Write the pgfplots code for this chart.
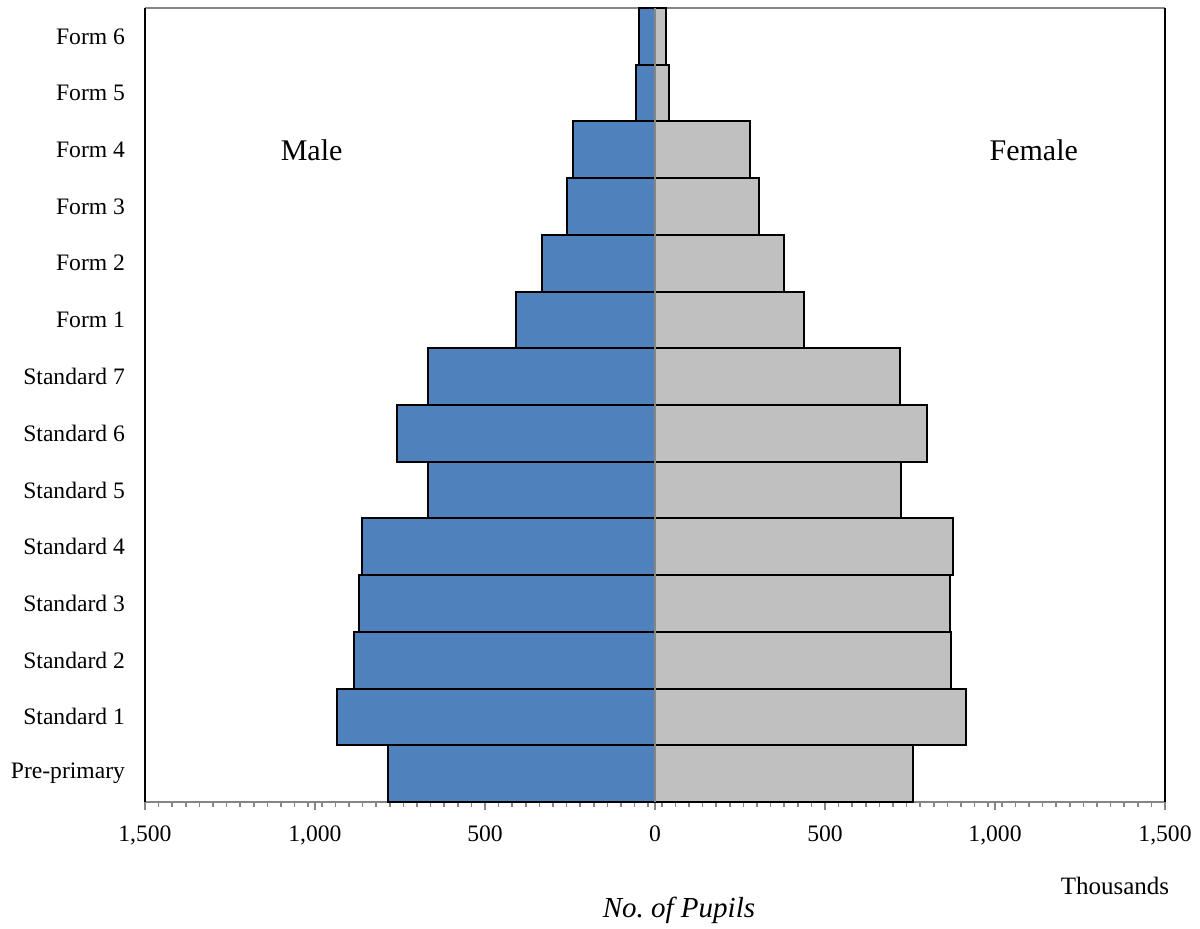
\documentclass[border=0pt]{standalone}
\usepackage{fontspec}
\setmainfont{Liberation Serif}
\usepackage{pgfplots}
\pgfplotsset{compat=1.18}
\definecolor{maleblue}{RGB}{79,129,189}
\definecolor{femgrey}{RGB}{192,192,192}
\definecolor{axgrey}{RGB}{134,134,134}

\begin{document}
\begin{tikzpicture}
\useasboundingbox (-72.5pt,-63.5pt) rectangle (527.5pt,401pt);
\begin{axis}[
    scale only axis,
    width=510pt, height=397pt,
    at={(0,0)}, anchor=south west,
    xbar, bar width=1, bar shift=0pt,
    xmin=-1500, xmax=1500,
    ymin=-0.5, ymax=13.5,
    clip=false,
    font=\fontsize{11.8}{14}\selectfont,
    /pgf/number format/assume math mode=true,
    axis line style={black, line width=0.8pt},
    separate axis lines,
    x axis line style={axgrey},
    xtick={-1500,-1000,-500,0,500,1000,1500},
    xticklabels={{1,500},{1,000},500,0,500,{1,000},{1,500}},
    minor xtick={-1500,-1460,...,1500},
    tick align=outside,
    xtick pos=bottom,
    major tick length=4pt, minor tick length=2.5pt,
    x tick style={axgrey, line width=0.8pt},
    xticklabel style={yshift=-4.5pt},
    ytick={0,...,13},
    yticklabels={Pre-primary,Standard 1,Standard 2,Standard 3,Standard 4,Standard 5,Standard 6,Standard 7,Form 1,Form 2,Form 3,Form 4,Form 5,Form 6},
    y tick style={draw=none},
    yticklabel style={xshift=-2.5pt},
]
% Male (thousands, plotted as negative)
\addplot[fill=maleblue, draw=black, line width=1pt] coordinates {
    (-786,0) (-934,1) (-885,2) (-871,3) (-862,4) (-667,5) (-760,6)
    (-668,7) (-410,8) (-333,9) (-260,10) (-241,11) (-56,12) (-47,13)
};
% Female (thousands)
\addplot[fill=femgrey, draw=black, line width=1pt] coordinates {
    (758,0) (914,1) (871,2) (867,3) (877,4) (724,5) (800,6)
    (722,7) (439,8) (378,9) (305,10) (278,11) (42,12) (33,13)
};
\draw[axgrey, line width=1.2pt] (axis cs:0,-0.5) -- (axis cs:0,13.5);
\node[font=\fontsize{15}{18}\selectfont] at (axis cs:-1010,11) {Male};
\node[font=\fontsize{15}{18}\selectfont] at (axis cs:1114,11) {Female};
\node[font=\fontsize{12.5}{15}\selectfont] at (rel axis cs:0.951,-0.106) {Thousands};
\node[font=\fontsize{14.5}{17}\selectfont\itshape] at (rel axis cs:0.5235,-0.137) {No.\ of Pupils};
\end{axis}
\end{tikzpicture}
\end{document}
